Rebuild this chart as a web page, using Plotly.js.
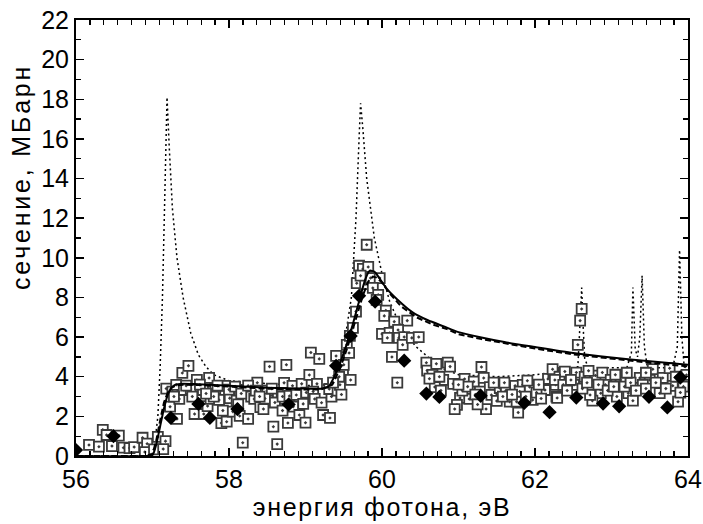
<!DOCTYPE html>
<html>
<head>
<meta charset="utf-8">
<script src="https://cdn.plot.ly/plotly-3.0.1.min.js"></script>
<style>
html,body{margin:0;padding:0;background:#fff;}
#chart{width:703px;height:524px;}
.xtitle{letter-spacing:1.7px;}
.annotation-text{letter-spacing:2.8px;}
</style>
</head>
<body>
<div id="chart"></div>
<script>
// Experimental points (open squares)
const expX = [
56.17,56.30,56.35,56.40,56.47,56.56,56.62,56.70,56.76,56.87,56.93,56.90,57.02,57.07,57.17,57.14,
57.23,57.32,57.18,57.26,57.31,57.39,57.47,57.35,57.41,57.50,57.52,57.58,57.55,57.66,57.67,57.72,57.74,57.76,57.82,57.87,57.90,57.95,57.92,57.97,58.01,58.05,58.10,58.14,58.18,58.21,58.25,58.29,58.33,58.37,58.41,58.45,58.50,58.53,58.58,58.63,58.64,58.69,58.72,58.75,
57.28,57.44,57.62,57.80,58.00,58.08,58.16,58.25,58.35,58.47,58.56,58.60,58.40,57.85,57.70,58.12,
58.83,58.95,59.05,59.15,58.70,58.79,58.88,59.01,59.10,58.70,58.84,58.92,58.97,59.12,59.21,58.77,59.00,59.23,59.32,59.34,59.31,59.42,59.45,59.49,59.59,59.40,59.50,59.54,59.57,59.58,59.62,59.66,59.44,59.07,59.18,59.36,59.47,
59.70,59.75,59.82,59.67,59.78,59.85,59.97,59.88,59.95,59.93,60.05,60.03,60.16,60.33,60.00,60.10,60.07,60.21,60.22,60.29,60.27,60.39,60.48,60.13,60.20,59.80,59.72,
60.58,60.59,60.71,60.86,60.89,60.66,60.80,60.69,60.77,60.93,61.08,61.20,61.30,61.33,61.02,60.98,60.95,61.14,61.28,61.41,61.36,61.43,61.50,61.54,61.62,61.67,61.74,61.76,61.78,61.84,61.93,61.97,62.13,62.17,62.24,62.27,62.28,61.80,
60.62,60.75,61.05,61.12,61.22,61.25,61.46,61.58,61.70,61.88,62.02,62.05,62.08,61.90,61.60,61.00,
62.61,62.59,62.56,62.23,62.32,62.39,62.26,62.37,62.51,62.54,62.65,62.79,62.88,62.99,63.12,62.86,62.75,63.07,63.22,63.28,63.37,63.50,63.54,63.63,63.67,63.76,63.80,63.87,63.94,63.98,62.29,62.47,62.92,62.72,63.41,
62.42,62.62,62.68,62.83,62.95,63.03,63.17,63.25,63.32,63.45,63.58,63.71,63.84,63.90,63.05,63.20,63.45,62.70
];
const expY = [
0.56,0.47,1.32,1.06,0.50,1.03,0.42,0.40,0.45,0.92,0.62,0.20,0.33,0.96,0.75,0.35,
2.49,1.87,3.40,3.25,3.59,4.19,4.55,2.88,3.33,3.38,3.00,3.84,2.12,3.33,2.12,2.52,3.94,2.88,3.38,2.83,1.66,3.54,2.29,1.73,2.92,2.24,2.79,2.02,0.67,3.33,1.87,3.00,2.88,3.70,2.47,2.37,3.30,4.51,1.48,0.60,3.08,2.88,3.69,4.60,
3.00,3.55,3.60,3.00,3.35,3.50,3.15,3.55,3.30,2.90,3.40,2.70,3.00,3.55,3.15,2.60,
3.54,3.64,4.09,3.64,3.00,3.03,3.08,3.20,3.25,2.29,2.49,2.07,2.63,2.88,2.69,1.67,1.68,2.07,1.92,3.00,3.38,3.30,3.59,4.19,3.84,5.05,4.60,5.61,5.20,6.06,6.46,7.29,4.00,5.22,4.90,3.70,3.10,
9.60,9.44,9.54,8.72,8.67,8.98,8.98,8.48,8.13,7.88,7.34,7.07,6.78,6.83,6.16,6.21,5.96,6.36,5.96,6.00,5.61,5.96,6.00,5.00,3.70,10.66,9.10,
4.71,4.31,4.65,4.71,4.51,4.09,3.84,3.48,3.30,3.64,3.89,3.75,4.49,3.94,2.93,2.58,2.37,2.88,3.25,3.48,2.37,3.08,2.78,3.43,3.30,2.74,3.54,2.74,2.19,3.59,3.48,2.83,3.33,3.89,4.19,3.59,3.00,3.25,
3.90,4.00,3.30,3.50,3.10,2.60,3.70,3.00,3.10,3.00,3.20,3.60,2.90,3.80,3.70,3.60,
7.42,6.83,5.61,4.38,4.00,4.26,3.84,3.59,3.59,4.21,3.99,4.06,4.21,3.84,3.84,3.17,2.79,3.00,3.17,2.79,3.94,3.84,4.38,3.17,3.94,4.43,3.54,2.74,3.50,4.09,2.93,3.84,3.59,3.08,3.59,
3.30,3.40,3.70,3.60,3.30,3.50,3.50,3.70,3.30,3.40,3.70,3.40,4.00,3.20,4.10,4.20,4.20,4.30
];

// Second experiment (filled diamonds)
const diaX = [56.00,56.49,57.24,57.60,57.75,58.11,58.78,59.40,59.59,59.70,59.91,60.29,60.58,60.75,61.29,61.86,62.19,62.54,62.89,63.10,63.49,63.73,63.90];
const diaY = [0.30,1.00,1.92,2.63,1.92,2.37,2.60,4.55,6.06,8.08,7.79,4.81,3.15,2.98,3.04,2.68,2.21,2.95,2.65,2.51,2.99,2.45,3.96];

// Theory, solid
const solX = [56.0,56.9,57.0,57.05,57.1,57.15,57.2,57.25,57.3,57.4,57.6,58.0,58.5,59.0,59.2,59.3,59.4,59.5,59.6,59.7,59.78,59.84,59.9,59.97,60.05,60.2,60.4,60.6,60.8,61.0,61.3,61.6,62.0,62.5,63.0,63.5,64.0];
const solY = [0,0,0.05,0.6,1.5,2.4,3.1,3.45,3.6,3.65,3.62,3.55,3.45,3.4,3.4,3.5,4.2,5.2,6.4,7.8,8.9,9.35,9.3,8.95,8.5,7.9,7.25,6.85,6.55,6.25,5.98,5.75,5.5,5.2,4.97,4.78,4.6];

// Theory, dashed
const dasX = [56.0,56.9,57.0,57.05,57.1,57.15,57.2,57.25,57.3,57.4,57.6,58.0,58.5,59.0,59.2,59.35,59.45,59.55,59.65,59.75,59.82,59.88,59.93,60.0,60.1,60.25,60.45,60.65,60.85,61.0,61.3,61.6,62.0,62.5,63.0,63.5,64.0];
const dasY = [0,0,0.1,0.8,1.8,2.7,3.2,3.45,3.55,3.6,3.58,3.5,3.4,3.35,3.35,3.6,4.4,5.5,6.8,8.1,8.8,9.05,9.0,8.75,8.2,7.55,7.0,6.65,6.4,6.15,5.9,5.68,5.42,5.13,4.9,4.7,4.52];

// Theory, dotted (with narrow resonances)
const dotX = [56.0,56.95,57.02,57.07,57.1,57.13,57.16,57.19,57.22,57.26,57.32,57.4,57.5,57.6,57.7,57.8,58.0,58.5,59.0,59.3,59.4,59.5,59.6,59.66,59.7,59.72,59.75,59.8,59.85,59.9,60.0,60.1,60.2,60.3,60.45,60.6,60.8,61.0,61.5,62.0,62.4,62.56,62.58,62.61,62.63,62.65,62.7,63.2,63.26,63.28,63.31,63.34,63.37,63.4,63.43,63.47,63.8,63.86,63.89,63.92,63.95,64.0];
const dotY = [0,0,0.3,2.0,4.5,8.0,13.0,18.1,15.5,12.5,10.0,8.0,6.2,5.1,4.5,4.1,3.8,3.65,3.55,3.6,4.3,5.5,8.0,12.0,16.0,17.8,16.5,14.0,12.5,11.0,9.2,7.8,6.9,6.2,5.5,5.0,4.4,4.1,4.0,4.1,4.3,4.5,6.0,8.5,6.5,4.9,4.45,4.45,5.2,8.5,5.4,5.0,6.0,9.1,5.5,4.45,4.45,5.5,10.4,6.0,4.5,4.4];

const data = [
  {x: dotX, y: dotY, mode: 'lines', line: {color: '#000', width: 1.5, dash: '2px,3px'}, hoverinfo: 'skip'},
  {x: expX, y: expY, mode: 'markers', marker: {symbol: 'square-dot', size: 10, color: '#fff', line: {color: '#3a3a3a', width: 1.8}}},
  {x: diaX, y: diaY, mode: 'markers', marker: {symbol: 'diamond', size: 11, color: '#000', line: {width: 0}}},
  {x: dasX, y: dasY, mode: 'lines', line: {color: '#000', width: 2, dash: '6px,3px'}},
  {x: solX, y: solY, mode: 'lines', line: {color: '#000', width: 2, shape: 'spline', smoothing: 0.6}}
];

const fam = 'Liberation Sans, Arial, sans-serif';
const layout = {
  width: 703, height: 524,
  margin: {l: 76, r: 15, t: 20, b: 68},
  showlegend: false,
  paper_bgcolor: '#fff', plot_bgcolor: '#fff',
  font: {family: fam, color: '#000'},
  xaxis: {
    range: [56, 64], tick0: 56, dtick: 2, ticks: 'inside', ticklen: 8, tickwidth: 1.5, tickcolor: '#000',
    showline: true, linewidth: 2, linecolor: '#000', mirror: 'ticks', showgrid: false, zeroline: false,
    tickfont: {family: fam, size: 25, color: '#000'},
    minor: {tick0: 56, dtick: 2/11, ticks: 'inside', ticklen: 5, tickwidth: 1.2, tickcolor: '#000', showgrid: false},
    title: {text: 'энергия фотона, эВ', font: {family: fam, size: 25, color: '#000'}, standoff: 4}
  },
  yaxis: {
    range: [0, 22], tick0: 0, dtick: 2, ticks: 'inside', ticklen: 8, tickwidth: 1.5, tickcolor: '#000',
    showline: true, linewidth: 2, linecolor: '#000', mirror: 'ticks', showgrid: false, zeroline: false,
    tickfont: {family: fam, size: 25, color: '#000'},
    minor: {dtick: 1, ticks: 'inside', ticklen: 5, tickwidth: 1.2, tickcolor: '#000', showgrid: false}
  },
  annotations: [{
    text: 'сечение, МБарн', xref: 'paper', yref: 'paper', x: 0, y: 0.64, xshift: -55,
    xanchor: 'center', yanchor: 'middle', textangle: -90, showarrow: false,
    font: {family: fam, size: 25, color: '#000'}
  }]
};

Plotly.newPlot('chart', data, layout, {staticPlot: true, displayModeBar: false});
</script>
</body>
</html>
